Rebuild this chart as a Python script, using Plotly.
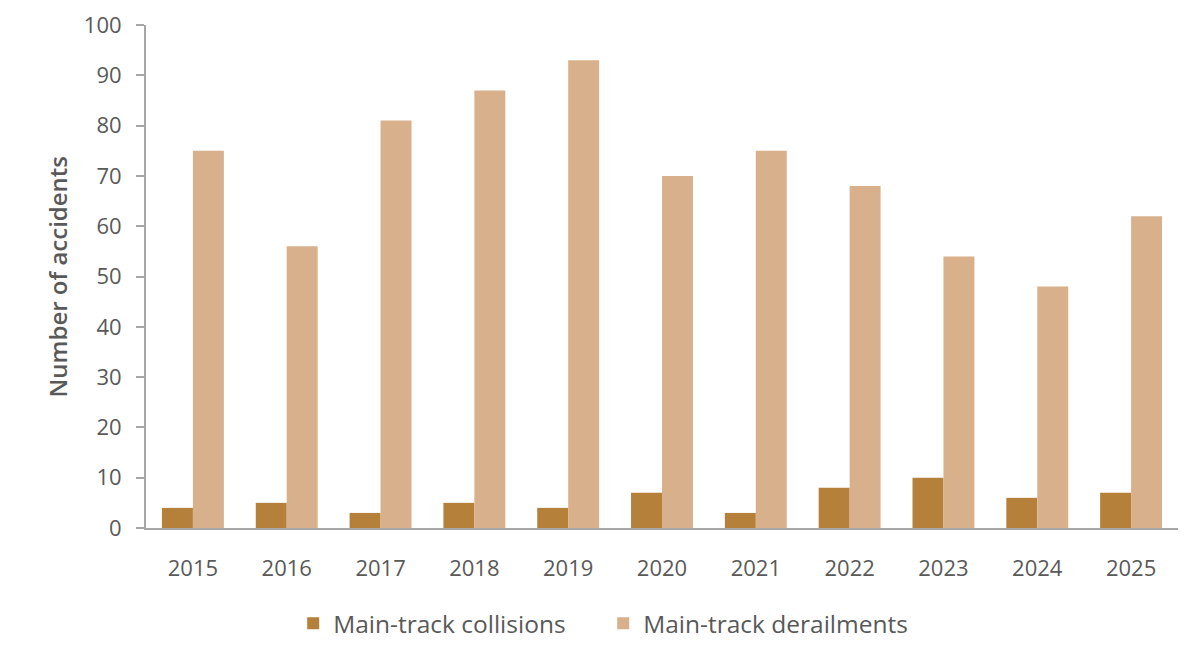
import plotly.graph_objects as go

years = ["2015", "2016", "2017", "2018", "2019", "2020", "2021", "2022", "2023", "2024", "2025"]
collisions = [4, 5, 3, 5, 4, 7, 3, 8, 10, 6, 7]
derailments = [75, 56, 81, 87, 93, 70, 75, 68, 54, 48, 62]
series_names = ["Main-track collisions", "Main-track derailments"]
series_colors = ["#B5803A", "#D9B08C"]
y_title = "Number of accidents"

FONT = "Open Sans, Segoe UI, sans-serif"
GREY = "#595959"

fig = go.Figure()
for name, vals, col in zip(series_names, [collisions, derailments], series_colors):
    fig.add_trace(go.Bar(x=years, y=vals, name=name,
                         marker=dict(color=col, line=dict(width=0))))

fig.update_layout(
    width=1200, height=663,
    margin=dict(l=138, r=30, t=17, b=143, autoexpand=False),
    paper_bgcolor="white", plot_bgcolor="white",
    barmode="group", bargap=0.34, bargroupgap=0,
    font=dict(family=FONT, size=22, color=GREY),
    showlegend=True,
    legend=dict(orientation="h", xref="container", x=0.496, xanchor="center",
                y=-0.145, yanchor="top", entrywidth=265, entrywidthmode="pixels",
                font=dict(size=24.5, color=GREY), itemwidth=30, traceorder="normal"),
    xaxis=dict(showline=True, linecolor="#A6A6A6", linewidth=2, ticks="",
               tickfont=dict(size=22, color=GREY), showgrid=False,
               ticklabelstandoff=20, automargin=False),
    yaxis=dict(range=[0, 100], dtick=10, showline=True, linecolor="#A6A6A6", linewidth=2,
               ticks="outside", ticklen=8, tickcolor="#A6A6A6", tickwidth=2,
               showgrid=False, zeroline=False, ticklabelstandoff=10, automargin=False,
               tickfont=dict(size=22, color=GREY)),
    annotations=[dict(text=y_title, textangle=-90, xref="paper", yref="paper",
                      x=-0.0853, y=0.5, xanchor="center", yanchor="middle",
                      showarrow=False,
                      font=dict(size=24, color=GREY, weight=600))],
)

fig.write_html("out.html")
